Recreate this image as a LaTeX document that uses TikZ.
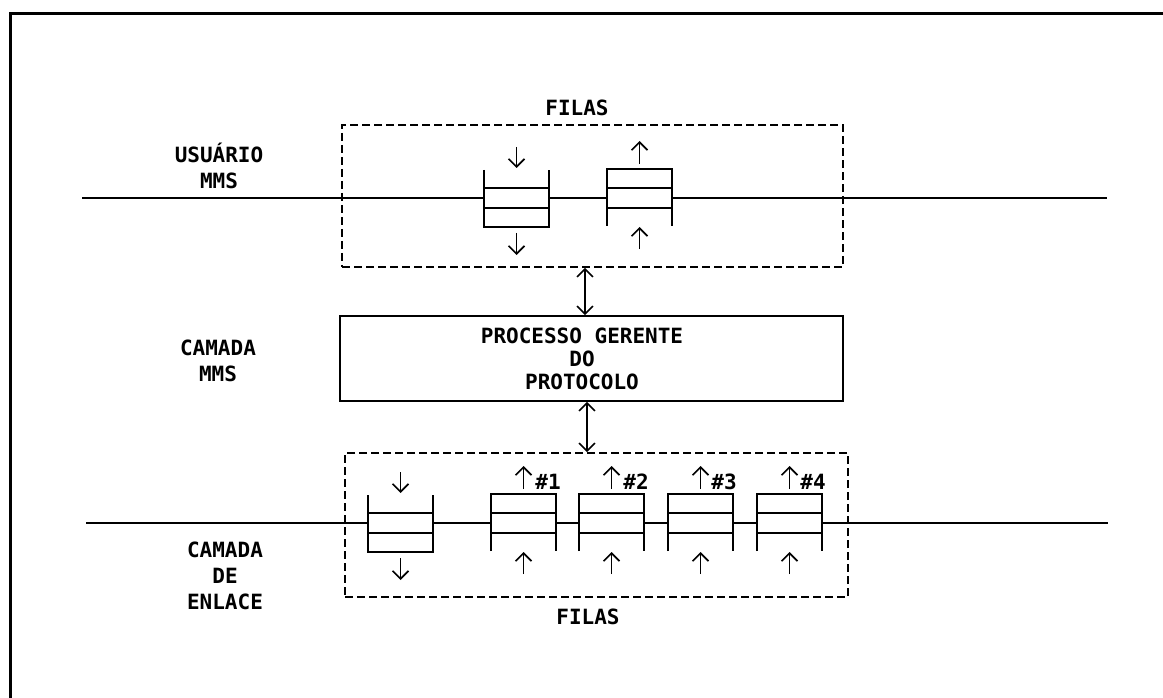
\documentclass[tikz,border=0pt]{standalone}
\usepackage{fontspec}
\newfontfamily\lbl{DejaVu Sans Mono}
\usetikzlibrary{arrows.meta}
\begin{document}
\begin{tikzpicture}[x=1pt,y=-1pt,
  line width=1.6pt,
  arr/.style={-{Straight Barb[length=8pt,width=16pt,line width=1.6pt]}},
  darr/.style={{Straight Barb[length=8pt,width=16pt,line width=1.6pt]}-{Straight Barb[length=8pt,width=16pt,line width=1.6pt]}},
  dbox/.style={draw,dash pattern=on 8pt off 4pt,minimum width=#1,inner sep=0pt},
  txt/.style={font=\lbl\bfseries\fontsize{21}{26}\selectfont,align=center,inner sep=0pt},
  ptxt/.style={font=\lbl\bfseries\fontsize{21}{23}\selectfont,align=center,inner sep=0pt},
  qdown/.pic={
    \draw[fill=white] (-32.5,-10) rectangle (32.5,10);
    \draw (-32.5,-28) -- (-32.5,29) -- (32.5,29) -- (32.5,-28);
    \draw[arr] (0,-51) -- (0,-30);
    \draw[arr] (0,35) -- (0,57);
  },
  qup/.pic={
    \draw[fill=white] (-32.5,-10) rectangle (32.5,10);
    \draw (-32.5,28) -- (-32.5,-29) -- (32.5,-29) -- (32.5,28);
    \draw[arr] (0,-34) -- (0,-57);
    \draw[arr] (0,51) -- (0,29);
  }]
\useasboundingbox (0,0) rectangle (1163,698);
% frame
\draw[line width=3pt] (10,698) -- (10,14) -- (1163,14);
% boxes
\node[dbox=501pt,minimum height=142pt] (ubox) at (592.5,196) {};
\node[draw,minimum width=503pt,minimum height=85pt,inner sep=0pt] (proc) at (591.5,358.5) {};
\node[dbox=503pt,minimum height=144pt] (lbox) at (596.5,525) {};
\node[ptxt] (ptext) at (582,359) {PROCESSO GERENTE\\DO\\PROTOCOLO};
% main lines
\coordinate (l1) at (82,198); \coordinate (r1) at (1107,198);
\coordinate (l2) at (86,523); \coordinate (r2) at (1108,523);
\draw (l1) -- (r1);
\draw (l2) -- (r2);
% upper queues
\pic at (516.5,198) {qdown};
\pic at (639.5,198) {qup};
% lower queues
\pic at (400.5,523) {qdown};
\pic at (523.5,523) {qup};
\pic at (611.5,523) {qup};
\pic at (700.5,523) {qup};
\pic at (789.5,523) {qup};
\node[txt] (n1) at (548,482) {\#1};
\node[txt] (n2) at (636,482) {\#2};
\node[txt] (n3) at (724,482) {\#3};
\node[txt] (n4) at (813,482) {\#4};
% connectors between boxes
\coordinate (ax) at (585,0);
\coordinate (bx) at (587,0);
\draw[darr] (ubox.south -| ax) -- (proc.north -| ax);
\draw[darr] (proc.south -| bx) -- (lbox.north -| bx);
% labels
\node[txt] (f1) at (577,108) {FILAS};
\node[txt] (f2) at (588,617) {FILAS};
\node[txt] (u) at (219,165.5) {USUÁRIO\\MMS};
\node[txt] (c) at (218,361) {CAMADA\\MMS};
\node[txt] (e) at (225,576) {CAMADA\\DE\\ENLACE};
\end{tikzpicture}
\end{document}
